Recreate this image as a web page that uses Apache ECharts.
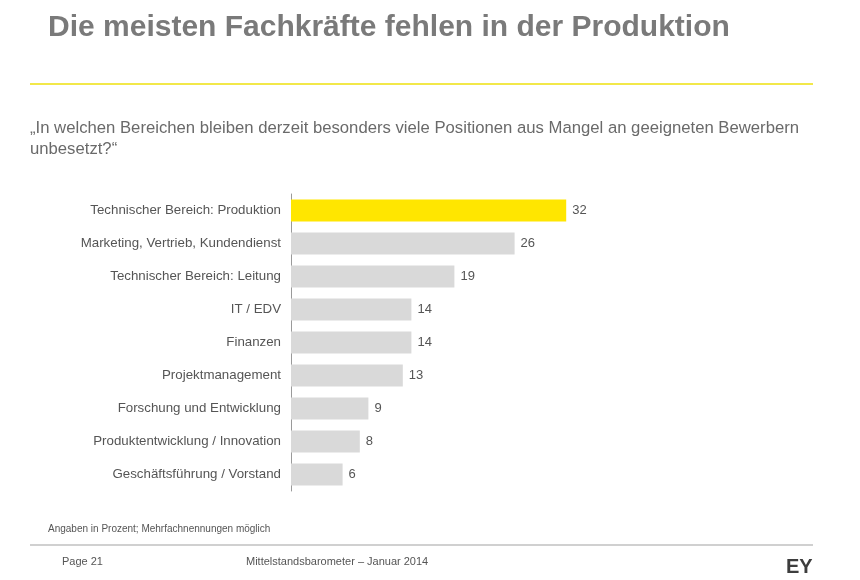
<!DOCTYPE html>
<html>
<head>
<meta charset="utf-8">
<script src="https://cdn.jsdelivr.net/npm/echarts@6/dist/echarts.min.js"></script>
<style>
  html, body { margin: 0; padding: 0; background: #fff; }
  #chart { width: 860px; height: 580px; }
</style>
</head>
<body>
<div id="chart"></div>
<script>
// Bereiche (top to bottom as in the picture)
var categories = [
  'Technischer Bereich: Produktion',
  'Marketing, Vertrieb, Kundendienst',
  'Technischer Bereich: Leitung',
  'IT / EDV',
  'Finanzen',
  'Projektmanagement',
  'Forschung und Entwicklung',
  'Produktentwicklung / Innovation',
  'Geschäftsführung / Vorstand'
];
var values = [32, 26, 19, 14, 14, 13, 9, 8, 6];
var highlightIndex = 0;

var FONT = '"Liberation Sans", Arial, sans-serif';
var chart = echarts.init(document.getElementById('chart'));

chart.setOption({
  animation: false,
  textStyle: { fontFamily: FONT },
  title: {
    text: 'Die meisten Fachkräfte fehlen in der Produktion',
    left: 43, top: 8,
    textStyle: { fontSize: 30, fontWeight: 'bold', color: '#7a7a7a', fontFamily: FONT }
  },
  grid: { left: 291, top: 194, bottom: 89, right: 225 },
  xAxis: {
    type: 'value', min: 0, max: 40,
    show: false
  },
  yAxis: {
    type: 'category',
    data: categories,
    inverse: true,
    axisLine: { show: true, lineStyle: { color: '#9a9a9a', width: 1 } },
    axisTick: { show: false },
    axisLabel: { color: '#555', fontSize: 13.3, margin: 10, fontFamily: FONT }
  },
  series: [{
    type: 'bar',
    barWidth: 22,
    data: values.map(function (v, i) {
      return { value: v, itemStyle: { color: i === highlightIndex ? '#ffe600' : '#d9d9d9' } };
    }),
    label: { show: true, position: 'right', distance: 6, color: '#555', fontSize: 13, fontFamily: FONT }
  }],
  graphic: [
    { type: 'rect', shape: { x: 30, y: 83, width: 783, height: 2 }, style: { fill: '#f2e84a' } },
    { type: 'text', left: 30, top: 118, style: {
      text: '„In welchen Bereichen bleiben derzeit besonders viele Positionen aus Mangel an geeigneten Bewerbern\nunbesetzt?“',
      font: '16.7px ' + FONT, fill: '#6a6a6a', lineHeight: 21 } },
    { type: 'text', left: 48, top: 524, style: {
      text: 'Angaben in Prozent; Mehrfachnennungen möglich', font: '10px ' + FONT, fill: '#555' } },
    { type: 'rect', shape: { x: 30, y: 544, width: 783, height: 2 }, style: { fill: '#d0d0d0' } },
    { type: 'text', left: 62, top: 556, style: { text: 'Page 21', font: '11px ' + FONT, fill: '#555' } },
    { type: 'text', left: 246, top: 556, style: { text: 'Mittelstandsbarometer – Januar 2014', font: '11px ' + FONT, fill: '#555' } },
    { type: 'text', left: 786, top: 557, style: { text: 'EY', font: 'bold 20px ' + FONT, fill: '#3d3d3d' } }
  ]
});
</script>
</body>
</html>
